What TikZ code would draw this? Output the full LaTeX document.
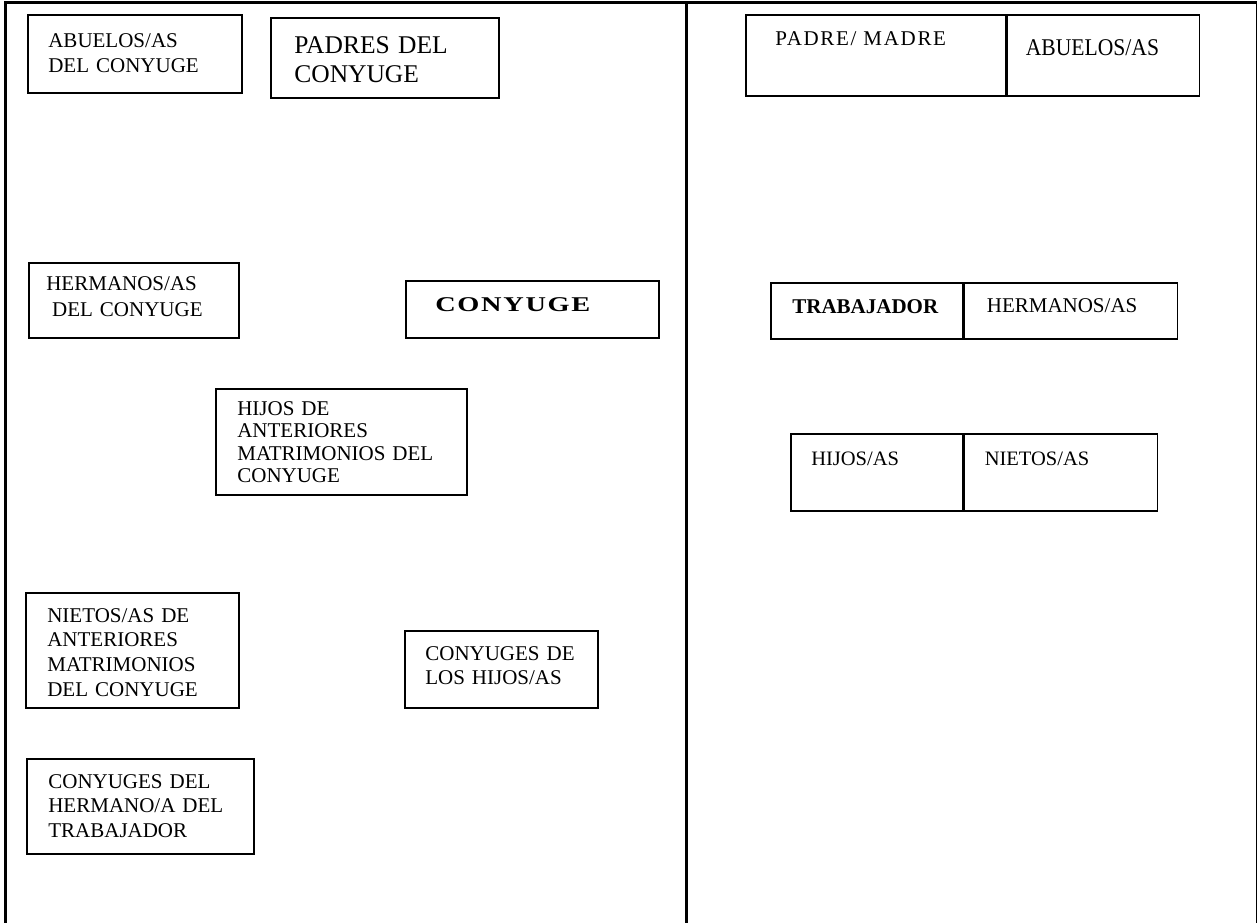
\documentclass[tikz,border=0pt]{standalone}
\usepackage{fontspec}
\setmainfont{Liberation Serif}
\newfontfamily\widefont[FakeStretch=1.35,LetterSpace=8]{Liberation Serif}
\newfontfamily\spacedfont[LetterSpace=8]{Liberation Serif}
\newfontfamily\narrowfont[FakeStretch=0.9]{Liberation Serif}
\usetikzlibrary{positioning}

\begin{document}
\begin{tikzpicture}[
    x=0.6pt, y=-0.6pt,
    cell/.style={draw, line width=0.9pt, inner sep=0pt, anchor=north west},
    lbl/.style={inner sep=0pt, anchor=base west, align=left, text width=150pt,
        font=\fontsize{12.6}{14.8}\selectfont},
    rule/.style={line width=1.8pt},
]

    \path[use as bounding box] (0,0) rectangle (1258,923);

    % frame
    \draw[rule] (4,2.5) -- (1257,2.5);
    \draw[rule] (5.5,1.6) -- (5.5,923);
    \draw[rule] (686.5,1.6) -- (686.5,923);
    \draw[line width=0.6pt] (1256,2.5) -- (1256,923);

    % family of the spouse
    \node[cell, minimum width=128.4pt, minimum height=46.8pt] (abuC) at (27,14)  {};
    \node[cell, minimum width=136.8pt, minimum height=48pt]   (padC) at (270,17) {};
    \node[cell, minimum width=126pt,   minimum height=45pt]   (herC) at (28,262) {};
    \node[cell, minimum width=151.8pt, minimum height=34.2pt] (cony) at (405,280) {};
    \node[cell, minimum width=150.6pt, minimum height=63.6pt] (hijC) at (215,388) {};
    \node[cell, minimum width=127.8pt, minimum height=69pt]   (nieC) at (25,592) {};
    \node[cell, minimum width=115.8pt, minimum height=46.2pt] (chij) at (404,630) {};
    \node[cell, minimum width=136.2pt, minimum height=57pt]   (cher) at (26,758) {};

    \node[lbl, font=\fontsize{12.6}{15}\selectfont] (abuCt) at ([shift={(21,33)}]abuC.north west)
        {ABUELOS/AS\\DEL CONYUGE};
    \node[lbl, font=\fontsize{15.3}{17.4}\selectfont] (padCt) at ([shift={(24,36)}]padC.north west)
        {PADRES DEL\\CONYUGE};
    \node[lbl, font=\fontsize{12.6}{15.6}\selectfont] (herCt) at ([shift={(18,28)}]herC.north west)
        {HERMANOS/AS\\\hspace*{3.5pt}DEL CONYUGE};
    \node[lbl, font=\widefont\bfseries\fontsize{12.6}{15}\selectfont] (conyt) at ([shift={(30,31)}]cony.north west)
        {CONYUGE};
    \node[lbl, font=\fontsize{12.6}{13.5}\selectfont] (hijCt) at ([shift={(22,27)}]hijC.north west)
        {HIJOS DE\\ANTERIORES\\MATRIMONIOS DEL\\CONYUGE};
    \node[lbl] (nieCt) at ([shift={(22,30)}]nieC.north west)
        {NIETOS/AS DE\\ANTERIORES\\MATRIMONIOS\\DEL CONYUGE};
    \node[lbl, font=\fontsize{12.6}{14.4}\selectfont] (chijt) at ([shift={(21,30)}]chij.north west)
        {CONYUGES DE\\LOS HIJOS/AS};
    \node[lbl, font=\fontsize{12.6}{14.7}\selectfont] (chert) at ([shift={(22,30)}]cher.north west)
        {CONYUGES DEL\\HERMANO/A DEL\\TRABAJADOR};

    % family of the worker
    \node[cell, minimum width=156pt,   minimum height=48.6pt]                  (pm)   at (745,14)  {};
    \node[cell, minimum width=115.2pt, minimum height=48.6pt, right=0pt of pm] (abu)  {};
    \node[cell, minimum width=115.2pt, minimum height=33.6pt]                  (trab) at (770,282) {};
    \node[cell, minimum width=127.8pt, minimum height=33.6pt, right=0pt of trab] (herm) {};
    \node[cell, minimum width=103.2pt, minimum height=46.2pt]                  (hij)  at (790,433) {};
    \node[cell, minimum width=115.8pt, minimum height=46.2pt, right=0pt of hij] (nie)  {};

    \node[lbl, font=\spacedfont\fontsize{12.6}{14}\selectfont] (pmt) at ([shift={(30,31)}]pm.north west)
        {PADRE/ MADRE};
    \node[lbl, font=\narrowfont\fontsize{14.4}{16}\selectfont] (abut) at ([shift={(19,41)}]abu.north west)
        {ABUELOS/AS};
    \node[lbl, font=\bfseries\fontsize{12.6}{15}\selectfont] (trabt) at ([shift={(22,31)}]trab.north west)
        {TRABAJADOR};
    \node[lbl] (hermt) at ([shift={(23,30)}]herm.north west) {HERMANOS/AS};
    \node[lbl, font=\fontsize{12.3}{14}\selectfont] (hijt) at ([shift={(21,32)}]hij.north west) {HIJOS/AS};
    \node[lbl, font=\fontsize{12.3}{14}\selectfont] (niet) at ([shift={(21,32)}]nie.north west) {NIETOS/AS};

\end{tikzpicture}
\end{document}
